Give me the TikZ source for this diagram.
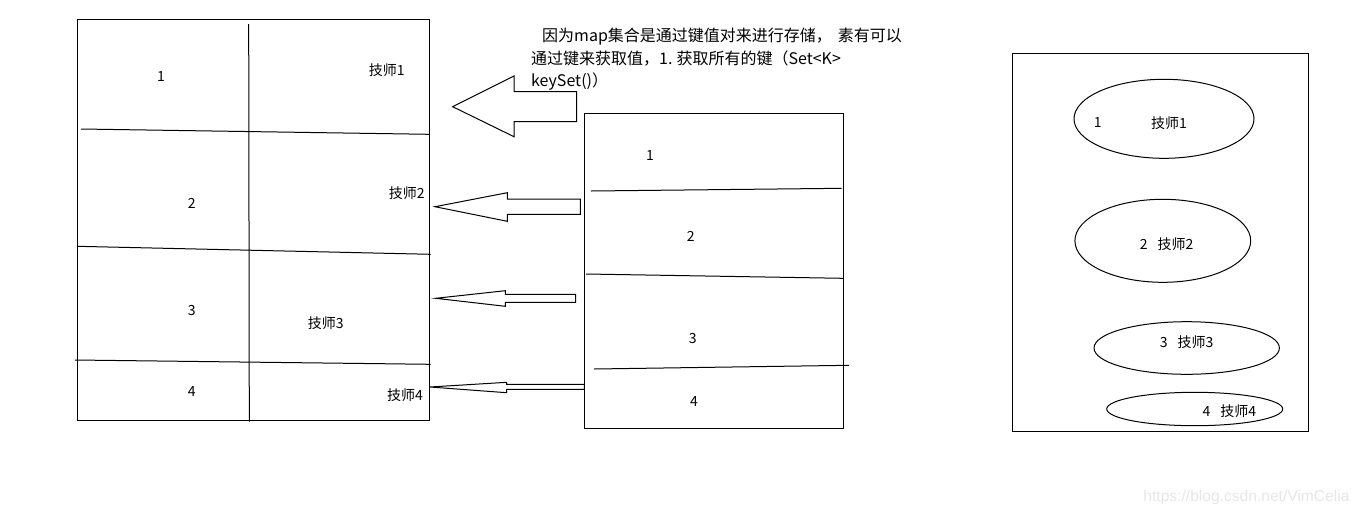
\documentclass[tikz,border=0pt]{standalone}
\usepackage{fontspec}
\setmainfont{Noto Sans CJK SC}
\setsansfont{Liberation Sans}
\usepackage{tikz}
\usetikzlibrary{positioning, shapes.geometric}
\definecolor{inkblack}{HTML}{000000}
\definecolor{markgray}{HTML}{E6E6E6}

\begin{document}
\begin{tikzpicture}[x=0.5pt, y=-0.5pt, line width=0.5pt, draw=inkblack,
    mapbox/.style={draw, anchor=north west, inner sep=0pt},
    cell/.style={font=\fontsize{7pt}{8pt}\selectfont, inner sep=0pt},
    hint/.style={font=\fontsize{8pt}{9pt}\selectfont, inner sep=0pt, anchor=west},
    pairoval/.style={draw, ellipse, inner sep=0pt},
    blockarrow/.style={draw, fill=white}]
  \useasboundingbox (0,0) rectangle (1360,515);

  % the map as a table of keys and values
  \node[mapbox, minimum width=176pt, minimum height=200.5pt] (table) at (77,19.3) {};
  \draw (248.7,24) -- (249.3,421.7);
  \draw (81,129) -- (429,134.3);
  \draw (77,246.3) -- (430.7,254.3);
  \draw (75,360) -- (430.7,364.3);
  \node[cell] (k1) at (161,77) {1};
  \node[cell] (v1) at (386.7,70) {技师1};
  \node[cell] (k2) at (191.7,203) {2};
  \node[cell] (v2) at (406.7,193) {技师2};
  \node[cell] (k3) at (191.7,310.7) {3};
  \node[cell] (v3) at (325.7,322.7) {技师3};
  \node[cell] (k4) at (191.7,391.7) {4};
  \node[cell] (v4) at (405,395) {技师4};

  % the set of keys
  \node[mapbox, minimum width=129.5pt, minimum height=157.7pt] (keys) at (584.3,112.7) {};
  \draw (591,191) -- (841.7,188.3);
  \draw (586,274) -- (843,278.3);
  \draw (594,369) -- (849,365.3);
  \node[cell] (s1) at (650,155.7) {1};
  \node[cell] (s2) at (690.7,236) {2};
  \node[cell] (s3) at (692.7,338.3) {3};
  \node[cell] (s4) at (694,401.7) {4};

  % block arrows from the keys back to the table
  \draw[blockarrow] (452.7,106.7) -- (514,76) -- (514,91.7) -- (576.7,91.7)
    -- (576.7,121.7) -- (514,121.7) -- (514,136.7) -- cycle;
  \draw[blockarrow] (435,206.7) -- (507.3,192.7) -- (507.3,199) -- (580.3,199)
    -- (580.3,214.3) -- (507.3,214.3) -- (507.3,221.3) -- cycle;
  \draw[blockarrow] (435.7,298.3) -- (505.3,290.7) -- (505.3,294.3) -- (575.7,294.3)
    -- (575.7,302.3) -- (505.3,302.3) -- (505.3,306.3) -- cycle;
  \draw[blockarrow] (430,387) -- (506.7,382.3) -- (506.7,384.3) -- (584.3,384.3)
    -- (584.3,389.3) -- (506.7,389.3) -- (506.7,392.7) -- cycle;

  \node[hint] (hint1) at (541.7,36.7) {因为map集合是通过键值对来进行存储，\hspace{3pt}素有可以};
  \node[hint] (hint2) at (530.7,58.3) {通过键来获取值，1.\hspace{2pt}获取所有的键（Set<K>};
  \node[hint] (hint3) at (530.7,81.7) {keySet()）};

  % the entries as pairs
  \node[mapbox, minimum width=148.3pt, minimum height=188.7pt] (entries) at (1011.7,53.3) {};
  \node[pairoval, minimum width=90pt, minimum height=39.5pt] (e1) at (1164,118.8) {};
  \node[pairoval, minimum width=87.9pt, minimum height=41.5pt] (e2) at (1162.8,240.8) {};
  \node[pairoval, minimum width=92.7pt, minimum height=26.3pt] (e3) at (1186.7,348) {};
  \node[pairoval, minimum width=88pt, minimum height=16.7pt] (e4) at (1194.7,409) {};
  \node[cell] (p1k) at (1097.7,122.7) {1};
  \node[cell] (p1v) at (1169,122.7) {技师1};
  \node[cell] (p2) at (1166.7,244) {2\hspace{5pt}技师2};
  \node[cell] (p3) at (1186.7,341.7) {3\hspace{5pt}技师3};
  \node[cell] (p4) at (1229.3,410.7) {4\hspace{5pt}技师4};

  \node[font=\sffamily\fontsize{7.8pt}{9pt}\selectfont, text=markgray, anchor=east,
        inner sep=0pt] (mark) at (1350,497) {https://blog.csdn.net/VimCelia};
\end{tikzpicture}
\end{document}
